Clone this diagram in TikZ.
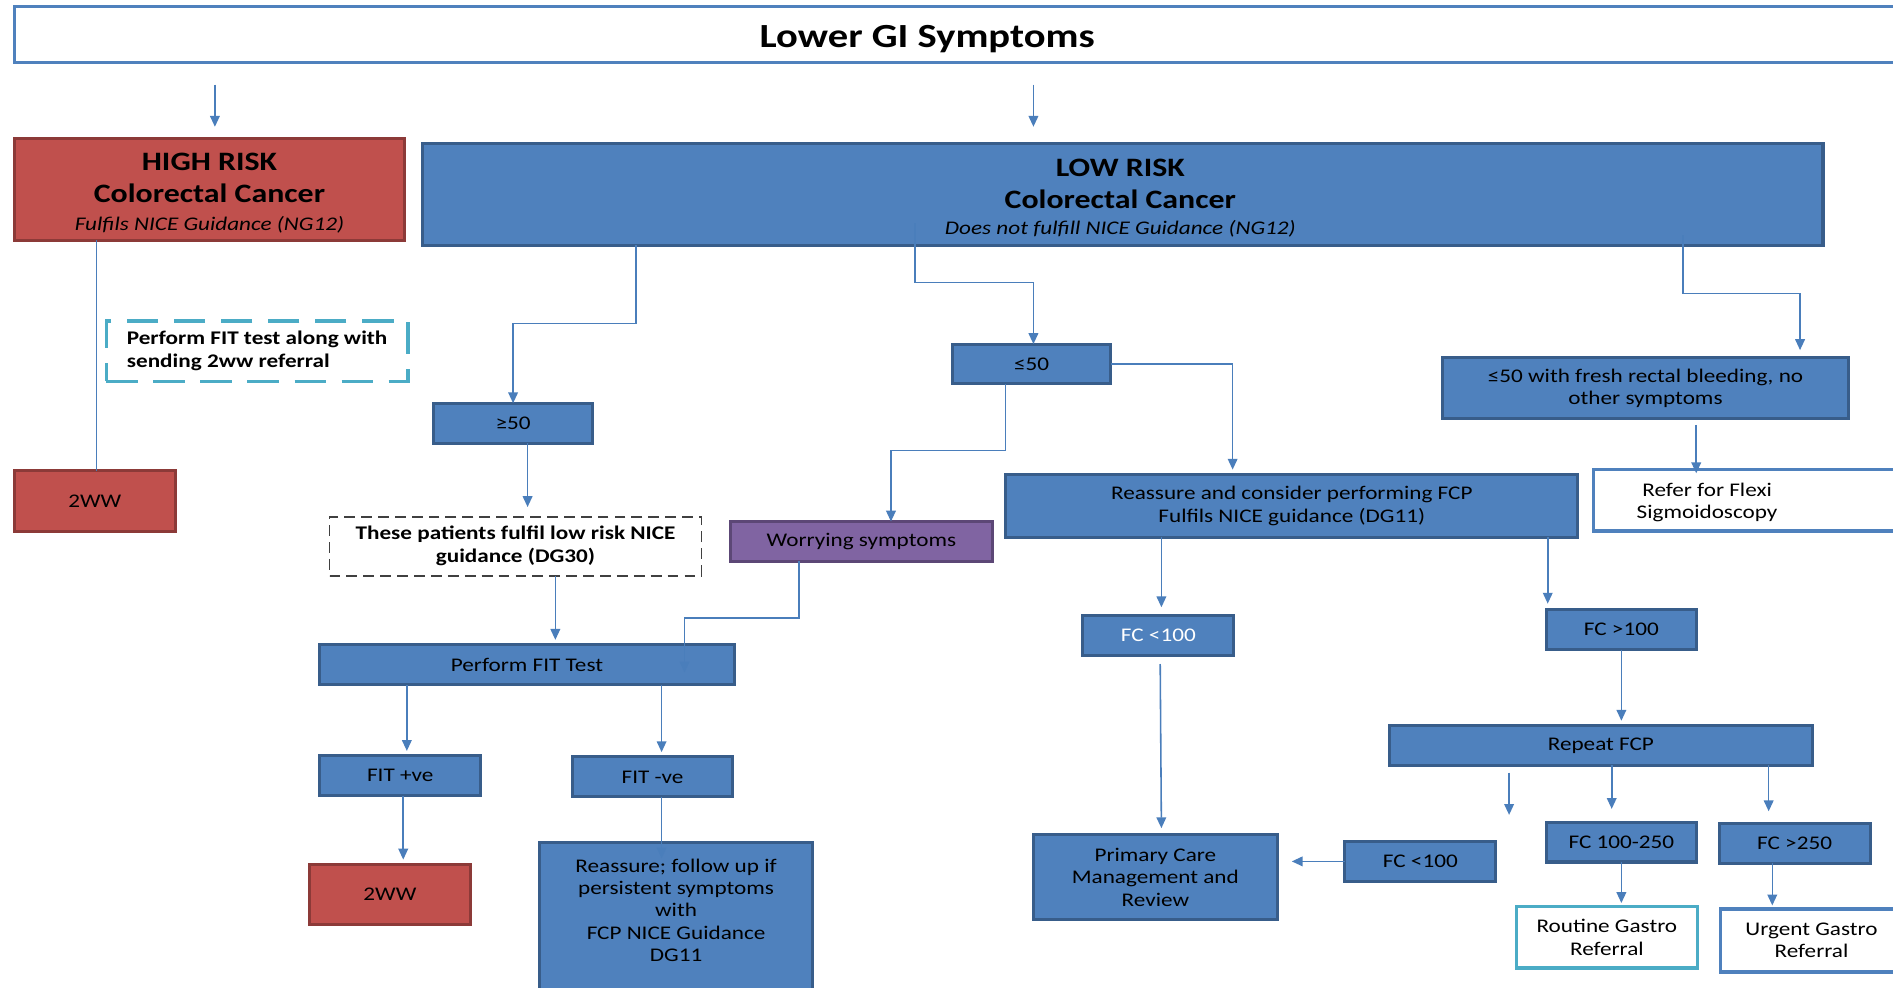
\documentclass[tikz,border=0pt]{standalone}
\usepackage{fontspec}
\setmainfont{Carlito}[FakeStretch=1.2]
\usetikzlibrary{calc,arrows.meta}
\definecolor{bfill}{HTML}{4F81BD}
\definecolor{bborder}{HTML}{385D8A}
\definecolor{rfill}{HTML}{C0504D}
\definecolor{rborder}{HTML}{8C3A38}
\definecolor{pfill}{HTML}{8064A2}
\definecolor{pborder}{HTML}{5C4776}
\definecolor{cyanline}{HTML}{4BACC6}
\definecolor{aline}{HTML}{4A7EBB}
\begin{document}
\begin{tikzpicture}[x=1pt,y=-1pt,
  sz/.style 2 args={minimum width=#1pt,minimum height=#2pt},
  box/.style={rectangle,inner sep=0pt,outer sep=0pt,align=center,line width=2.5pt,font=\fontsize{16}{18.5}\selectfont},
  bluebox/.style={box,fill=bfill,draw=bborder},
  redbox/.style={box,fill=rfill,draw=rborder},
  purplebox/.style={box,fill=pfill,draw=pborder},
  whitebox/.style={box,fill=white,draw=bfill,line width=3pt},
  cyanbox/.style={box,fill=white,draw=cyanline,line width=3pt},
  cyandash/.style={box,fill=white,draw=cyanline,line width=2.8pt,dash pattern=on 26pt off 13pt},
  blackdash/.style={box,fill=white,draw=black!75,line width=1.4pt,dash pattern=on 9pt off 5pt},
  txt/.style={inner sep=0pt,align=center,font=\fontsize{16}{18.5}\selectfont},
  headtxt/.style={inner sep=0pt,align=center,font=\fontsize{22}{26}\selectfont\bfseries},
  arr/.style={draw=aline,line width=1.3pt,-{Triangle[length=9pt,width=8pt]}},
  plainline/.style={draw=aline,line width=1.3pt}
]
\useasboundingbox (0,0) rectangle (1568,818);
\fill[white] (0,0) rectangle (1568,818);

% title
\node[box,draw=bfill,fill=white,line width=2.5pt,sz={1564}{47}] (title) at (794,28.5) {};
\node[txt,font=\fontsize{28}{32}\selectfont\bfseries] (titletext) at (768,32) {Lower GI Symptoms};

% risk boxes
\node[redbox,sz={323}{84}] (hr) at (173.5,157) {};
\node[headtxt] (hrt) at (173.5,160)
  {HIGH RISK\\[0pt]Colorectal Cancer\\[-3pt]{\fontsize{16}{18}\selectfont\mdseries\itshape Fulfils NICE Guidance (NG12)}};
\node[bluebox,sz={1160}{84}] (lr) at (930,161) {};
\node[headtxt] (lrt) at (928,164.5)
  {LOW RISK\\[0pt]Colorectal Cancer\\[-4pt]{\fontsize{16}{18}\selectfont\mdseries\itshape Does not fulfill NICE Guidance (NG12)}};

% left branch
\node[cyandash,sz={250}{50},align=left,font=\fontsize{16}{19}\selectfont\bfseries] (fitnote) at (213,291)
  {Perform FIT test along with\\sending 2ww referral};
\node[redbox,sz={133}{50}] (ww1) at (78.5,415) {2WW};

% >=50 branch
\node[bluebox,sz={132}{33}] (ge50) at (425,350.5) {≥50};
\node[blackdash,sz={308}{49},font=\fontsize{16}{19}\selectfont\bfseries] (note2) at (427,452.5)
  {These patients fulfil low risk NICE\\guidance (DG30)};
\node[bluebox,sz={343}{33}] (fit) at (436.5,550.5) {Perform FIT Test};
\node[bluebox,sz={133}{33}] (fitp) at (331.5,642.5) {FIT +ve};
\node[bluebox,sz={133}{33}] (fitn) at (540.5,643.5) {FIT -ve};
\node[redbox,sz={134}{50}] (ww2) at (323,741) {2WW};
\node[bluebox,sz={226}{132}] (reas2) at (560,764) {};
\node[txt] (reas2t) at (560,754) {Reassure; follow up if\\persistent symptoms\\with\\FCP NICE Guidance\\DG11};

% <=50 branch
\node[bluebox,sz={131}{33}] (le50) at (854.5,301.5) {≤50};
\node[purplebox,sz={217}{33}] (worry) at (713.5,448.5) {Worrying symptoms};
\node[bluebox,sz={474}{52}] (reas) at (1070,419) {Reassure and consider performing FCP\\Fulfils NICE guidance (DG11)};
\node[bluebox,sz={125}{33},text=white] (fc1) at (959.5,526.5) {FC <100};
\node[bluebox,sz={124}{33}] (fc2) at (1343,521.5) {FC >100};
\node[bluebox,sz={202}{71}] (pcm) at (957,726.5) {Primary Care\\Management and\\Review};
\node[bluebox,sz={350}{33}] (rep) at (1326,617.5) {Repeat FCP};
\node[bluebox,sz={125}{33}] (fc3) at (1176.5,713.5) {FC <100};
\node[bluebox,sz={124}{33}] (fc4) at (1343,697.5) {FC 100-250};
\node[bluebox,sz={125}{33}] (fc5) at (1486.5,698.5) {FC >250};
\node[cyanbox,sz={150}{51}] (rout) at (1331,776.5) {Routine Gastro\\Referral};
\node[whitebox,sz={151}{52}] (urg) at (1500.5,779) {Urgent Gastro\\Referral};

% bleeding branch
\node[bluebox,sz={336}{51}] (bleed) at (1363,321.5) {≤50 with fresh rectal bleeding, no\\other symptoms};
\node[whitebox,sz={256}{51}] (flexi) at (1448,414.5) {};
\node[txt] (flexit) at (1414,416) {Refer for Flexi\\Sigmoidoscopy};

% connectors
\draw[arr] ($(title.south west)+(166,18)$) -- ($(hr.north west)+(166,-10)$);
\draw[arr] ($(title.south west)+(844,18)$) -- ($(lr.north west)+(506,-14)$);
\draw[plainline] ($(hr.south west)+(68,0)$) -- ($(ww1.north west)+(68,0)$);
\draw[arr] ($(lr.south west)+(177,0)$) -- ++(0,65) -| (ge50.north);
\draw[arr] ($(lr.south west)+(408,-18)$) -- ++(0,49) -| ($(le50.north)+(1.5,0)$);
\draw[arr] ($(lr.south east)+(-116,-8)$) -- ++(0,48) -| ($(bleed.north east)+(-40,-6)$);
\draw[arr] ($(ge50.south west)+(78,0)$) -- ($(note2.north west)+(164,-8)$);
\draw[arr] ($(note2.south west)+(187,0)$) -- ($(fit.north west)+(195,-4)$);
\draw[arr] ($(le50.south west)+(44,0)$) -- ++(0,55) -| ($(worry.north west)+(133,0)$);
\draw[arr] (le50.east) -| ($(reas.north west)+(188,-4)$);
\draw[arr] ($(worry.south west)+(57,0)$) -- ++(0,47) -| ($(fit.north east)+(-41,23)$);
\draw[arr] ($(fit.south west)+(72,0)$) -- ($(fitp.north west)+(72,-4)$);
\draw[arr] ($(fit.south west)+(283,0)$) -- ($(fitn.north west)+(74,-4)$);
\draw[arr] ($(fitp.south west)+(69,0)$) -- ($(ww2.north west)+(78,-4)$);
\draw[arr] ($(fitn.south west)+(74,0)$) -- ($(reas2.north west)+(101,13)$);
\draw[arr] ($(reas.south west)+(129,0)$) -- ($(fc1.north west)+(65,-7)$);
\draw[arr] ($(reas.south west)+(449,0)$) -- ($(fc2.north west)+(1,-5)$);
\draw[arr] ($(fc1.south west)+(64,7)$) -- ($(pcm.north west)+(106,-5)$);
\draw[arr] ($(fc2.south west)+(62,0)$) -- ($(rep.north west)+(192,-4)$);
\draw[arr] ($(rep.south west)+(99,6)$) -- ++(0,35);
\draw[arr] ($(rep.south west)+(184,0)$) -- ($(fc4.north west)+(54,-11)$);
\draw[arr] ($(rep.south west)+(314,0)$) -- ($(fc5.north west)+(41,-10)$);
\draw[arr] ($(fc4.south west)+(62,0)$) -- ($(rout.north west)+(87,-3)$);
\draw[arr] ($(fc5.south west)+(44,0)$) -- ($(urg.north west)+(43,-3)$);
\draw[arr] (fc3.west) -- ($(fc3.west -| pcm.east)+(12,0)$);
\draw[arr] ($(bleed.south west)+(210,5)$) -- ($(flexi.north west)+(85,3)$);
\end{tikzpicture}
\end{document}
